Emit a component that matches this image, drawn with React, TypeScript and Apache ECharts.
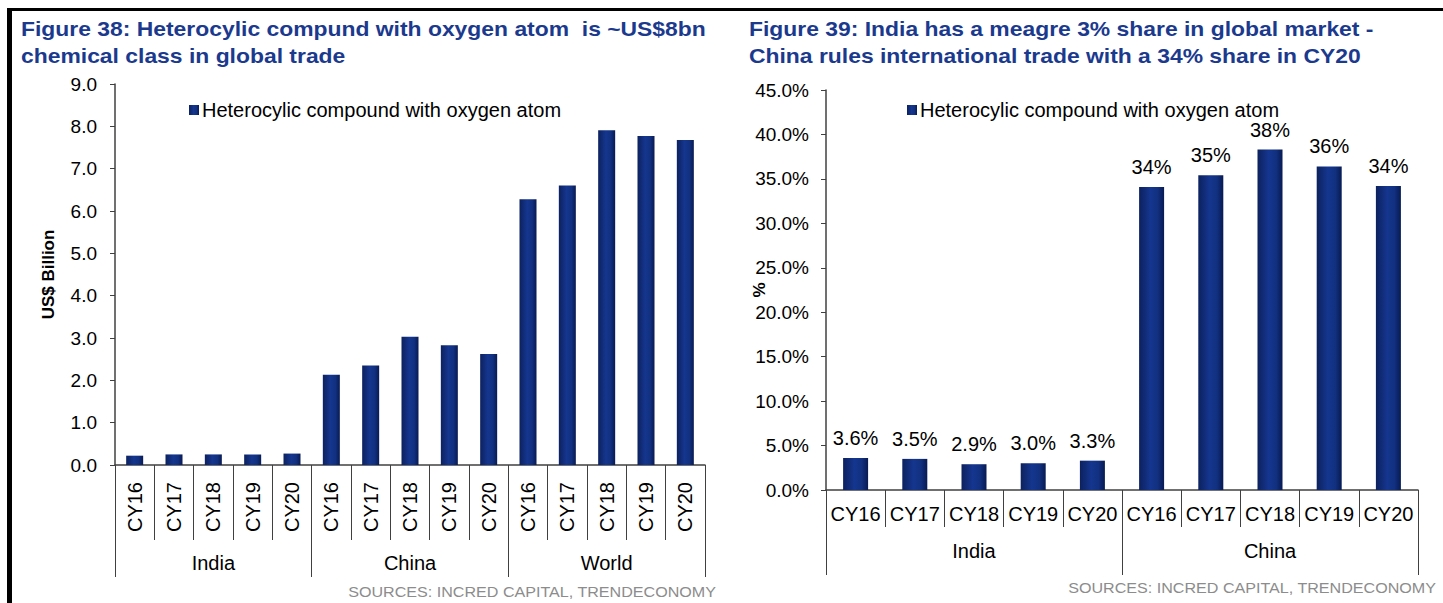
import React, { useEffect, useRef } from "react";
import * as echarts from "echarts";

const years = ["CY16", "CY17", "CY18", "CY19", "CY20"];
const leftGroups = ["India", "China", "World"];
const rightGroups = ["India", "China"];

const indiaValues = [0.22, 0.25, 0.25, 0.25, 0.27];
const chinaValues = [2.13, 2.35, 3.03, 2.83, 2.62];
const worldValues = [6.28, 6.6, 7.91, 7.77, 7.68];

const indiaShare = [3.6, 3.5, 2.9, 3.0, 3.3];
const chinaShare = [34.1, 35.4, 38.3, 36.4, 34.2];

const seriesName = "Heterocylic compound with oxygen atom";
const leftTitle = ["Figure 38: Heterocylic compund with oxygen atom  is ~US$8bn", "chemical class in global trade"];
const rightTitle = ["Figure 39: India has a meagre 3% share in global market -", "China rules international trade with a 34% share in CY20"];
const sourceText = "SOURCES: INCRED CAPITAL, TRENDECONOMY";

const FONT = "Arial, 'Liberation Sans', sans-serif";
const TITLE_COLOR = "#1B3A8E";
const AXIS_COLOR = "#404040";

const barColor = new echarts.graphic.LinearGradient(0, 0, 1, 0, [
  { offset: 0, color: "#0c215e" },
  { offset: 0.45, color: "#15368f" },
  { offset: 0.75, color: "#11307f" },
  { offset: 1, color: "#081a52" },
]);

export default function App() {
  const ref = useRef<HTMLDivElement>(null);
  useEffect(() => {
    if (!ref.current) return;
    const chart = echarts.init(ref.current, null, { renderer: "svg" });
    const leftCats = [...years, ...years, ...years];
    const rightCats = [...years, ...years];
    const leftData = [...indiaValues, ...chinaValues, ...worldValues];
    const rightData = [...indiaShare, ...chinaShare];

    const yLabel = { color: "#000", fontSize: 19, fontFamily: FONT };
    const catLabel = { interval: 0, color: "#000", fontSize: 20, fontFamily: FONT };
    const tick = (length: number) => ({
      show: true,
      interval: 0,
      alignWithLabel: false,
      inside: false,
      length,
      lineStyle: { color: AXIS_COLOR, width: 1 },
    });
    const legendText = { fontSize: 20, color: "#000", fontFamily: FONT, padding: [0, 0, 0, -2] };
    const nameStyle = { fontSize: 17, fontWeight: "bold", color: "#000", fontFamily: FONT };

    chart.setOption({
      animation: false,
      backgroundColor: "#fff",
      textStyle: { fontFamily: FONT },
      legend: [
        {
          data: [seriesName],
          left: 184,
          top: 95,
          itemWidth: 10,
          itemHeight: 10,
          icon: "rect",
          textStyle: legendText,
          selectedMode: false,
        },
        {
          data: [seriesName],
          left: 902,
          top: 95,
          itemWidth: 10,
          itemHeight: 10,
          icon: "rect",
          textStyle: legendText,
          selectedMode: false,
        },
      ],
      grid: [
        { left: 115, top: 84, width: 590, height: 381 },
        { left: 826, top: 90, width: 592, height: 400 },
      ],
      xAxis: [
        {
          type: "category",
          gridIndex: 0,
          data: leftCats,
          axisLine: { show: true, lineStyle: { color: AXIS_COLOR, width: 1.5 } },
          axisTick: tick(75),
          axisLabel: { ...catLabel, rotate: 90, margin: 17 },
        },
        {
          type: "category",
          gridIndex: 0,
          data: leftGroups,
          position: "bottom",
          axisLine: { show: false },
          axisTick: tick(112),
          axisLabel: { ...catLabel, margin: 88 },
        },
        {
          type: "category",
          gridIndex: 1,
          data: rightCats,
          axisLine: { show: true, lineStyle: { color: AXIS_COLOR, width: 1.5 } },
          axisTick: tick(37),
          axisLabel: { ...catLabel, margin: 14 },
        },
        {
          type: "category",
          gridIndex: 1,
          data: rightGroups,
          position: "bottom",
          axisLine: { show: false },
          axisTick: tick(85),
          axisLabel: { ...catLabel, margin: 51 },
        },
      ],
      yAxis: [
        {
          type: "value",
          gridIndex: 0,
          min: 0,
          max: 9,
          interval: 1,
          name: "US$ Billion",
          nameLocation: "middle",
          nameRotate: 90,
          nameGap: 58,
          nameMoveOverlap: false,
          nameTextStyle: nameStyle,
          axisLine: { show: true, lineStyle: { color: AXIS_COLOR, width: 1.5 } },
          axisTick: { show: true, length: 5, lineStyle: { color: AXIS_COLOR } },
          splitLine: { show: false },
          axisLabel: { ...yLabel, margin: 18, formatter: (v: number) => v.toFixed(1) },
        },
        {
          type: "value",
          gridIndex: 1,
          min: 0,
          max: 45,
          interval: 5,
          name: "%",
          nameLocation: "middle",
          nameRotate: 90,
          nameGap: 58,
          nameMoveOverlap: false,
          nameTextStyle: nameStyle,
          axisLine: { show: true, lineStyle: { color: AXIS_COLOR, width: 1.5 } },
          axisTick: { show: true, length: 5, lineStyle: { color: AXIS_COLOR } },
          splitLine: { show: false },
          axisLabel: { ...yLabel, margin: 17, formatter: (v: number) => v.toFixed(1) + "%" },
        },
      ],
      series: [
        {
          name: seriesName,
          type: "bar",
          xAxisIndex: 0,
          yAxisIndex: 0,
          data: leftData,
          barWidth: 17,
          itemStyle: { color: barColor },
        },
        {
          name: seriesName,
          type: "bar",
          xAxisIndex: 2,
          yAxisIndex: 1,
          data: rightData,
          barWidth: 25,
          itemStyle: { color: barColor },
          label: {
            show: true,
            position: "top",
            distance: 10,
            fontSize: 20,
            color: "#000",
            fontFamily: FONT,
            formatter: (p: any) => (p.value >= 10 ? Math.round(p.value) + "%" : p.value.toFixed(1) + "%"),
          },
        },
      ],
      graphic: [
        { type: "rect", shape: { x: 7, y: 8, width: 1436, height: 3 }, style: { fill: "#000" } },
        { type: "rect", shape: { x: 7, y: 8, width: 5, height: 595 }, style: { fill: "#000" } },
        {
          type: "text",
          x: 21,
          y: 16,
          scaleX: 1.145,
          style: {
            text: leftTitle.join("\n"),
            fill: TITLE_COLOR,
            font: `bold 20px ${FONT}`,
            lineHeight: 27,
            textVerticalAlign: "top",
          },
        },
        {
          type: "text",
          x: 749,
          y: 16,
          scaleX: 1.145,
          style: {
            text: rightTitle.join("\n"),
            fill: TITLE_COLOR,
            font: `bold 20px ${FONT}`,
            lineHeight: 27,
            textVerticalAlign: "top",
          },
        },
        {
          type: "text",
          x: 716,
          y: 592,
          scaleX: 1.15,
          style: { text: sourceText, fill: "#8c8c8c", font: `14px ${FONT}`, textAlign: "right", textVerticalAlign: "middle" },
        },
        {
          type: "text",
          x: 1436,
          y: 588,
          scaleX: 1.15,
          style: { text: sourceText, fill: "#8c8c8c", font: `14px ${FONT}`, textAlign: "right", textVerticalAlign: "middle" },
        },
      ],
    });
    return () => chart.dispose();
  }, []);
  return <div ref={ref} style={{ position: "fixed", left: 0, top: 0, width: 1443, height: 603 }} />;
}
